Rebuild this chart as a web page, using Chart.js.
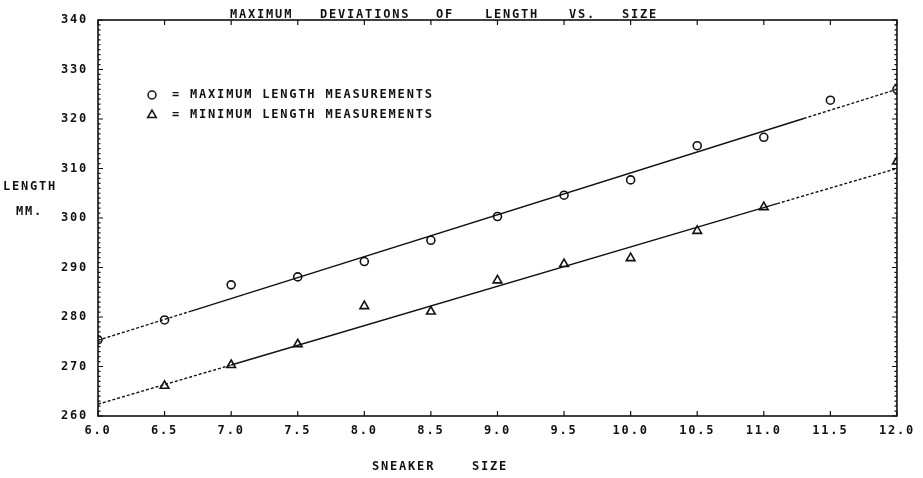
<!DOCTYPE html>
<html>
<head>
<meta charset="utf-8">
<script src="https://cdn.jsdelivr.net/npm/chart.js@4.4.1/dist/chart.umd.min.js"></script>
<style>
  html, body { margin: 0; padding: 0; background: #fff; }
  #wrap { width: 923px; height: 478px; }
</style>
</head>
<body>
<div id="wrap"><canvas id="chart" width="923" height="478"></canvas></div>
<script>
// shoe sizes (x) and measured lengths in mm
const sizes = [6.0, 6.5, 7.0, 7.5, 8.0, 8.5, 9.0, 9.5, 10.0, 10.5, 11.0, 11.5, 12.0];
const maxLength = [275.4, 279.4, 286.5, 288.1, 291.2, 295.5, 300.3, 304.6, 307.7, 314.6, 316.3, 323.8, 326.0];
const minLength = [null, 266.1, 270.3, 274.5, 282.2, 281.1, 287.4, 290.7, 291.9, 297.4, 302.2, null, 311.4];

// fitted lines: ends dotted, middle solid
const maxFitX = [6.0, 6.7, 11.3, 12.0];
const maxFitY = [275.3, 281.2, 320.1, 326.0];
const minFitX = [6.0, 7.0, 11.1, 12.0];
const minFitY = [262.4, 270.3, 302.9, 310.0];

const xTicks = { min: 6, max: 12, step: 0.5 };
const yTicks = { min: 260, max: 340, step: 10 };

const titleWords = ['MAXIMUM', 'DEVIATIONS', 'OF', 'LENGTH', 'VS.', 'SIZE'];
const titleWordX = [230, 320, 436, 485, 569, 622];
const legendLabels = ['= MAXIMUM LENGTH MEASUREMENTS', '= MINIMUM LENGTH MEASUREMENTS'];

const INK = '#111';
const FONT = "'DejaVu Sans Mono', monospace";
const SPACING = '1.8px';

function toPoints(xs, ys) {
    const pts = [];
    xs.forEach((x, i) => {
        if (ys[i] !== null) pts.push({ x: x, y: ys[i] });
    });
    return pts;
}

function fitLine(xs, ys) {
    return {
        data: toPoints(xs, ys),
        showLine: true,
        borderColor: INK,
        borderWidth: 1.4,
        pointRadius: 0,
        segment: {
            // first and last pieces are the dotted extrapolation
            borderDash: ctx => (ctx.p0DataIndex === 1 ? [] : [3, 2])
        }
    };
}

// spaced plotter-like lettering
const spacingPlugin = {
    id: 'spacing',
    beforeLayout(chart) { chart.ctx.letterSpacing = SPACING; },
    beforeDraw(chart) { chart.ctx.letterSpacing = SPACING; }
};

// frame, tick marks, titles and legend
const framePlugin = {
    id: 'frame',
    afterDraw(chart) {
        const ctx = chart.ctx;
        const a = chart.chartArea;
        const xs = chart.scales.x;
        const ys = chart.scales.y;
        ctx.save();
        ctx.strokeStyle = INK;
        ctx.fillStyle = INK;
        ctx.lineWidth = 1.6;
        ctx.strokeRect(a.left, a.top, a.right - a.left, a.bottom - a.top);

        ctx.lineWidth = 1.2;
        ctx.beginPath();
        xs.ticks.forEach(t => {
            const px = xs.getPixelForValue(t.value);
            ctx.moveTo(px, a.bottom);
            ctx.lineTo(px, a.bottom - 5);
            ctx.moveTo(px, a.top);
            ctx.lineTo(px, a.top + 5);
        });
        for (let v = yTicks.min; v <= yTicks.max; v += 1) {
            const py = ys.getPixelForValue(v);
            const len = v % 10 === 0 ? 5 : 2.5;
            ctx.moveTo(a.left, py);
            ctx.lineTo(a.left + len, py);
            ctx.moveTo(a.right, py);
            ctx.lineTo(a.right - len, py);
        }
        ctx.stroke();

        ctx.letterSpacing = SPACING;
        ctx.font = 'bold 12px ' + FONT;
        ctx.textBaseline = 'alphabetic';
        ctx.textAlign = 'left';
        titleWords.forEach((w, i) => ctx.fillText(w, titleWordX[i], 18));

        ctx.textBaseline = 'middle';
        ctx.fillText('LENGTH', 3, 187);
        ctx.fillText('MM.', 16, 212);
        ctx.fillText('SNEAKER', 372, 467);
        ctx.fillText('SIZE', 472, 467);
        ctx.fillText(legendLabels[0], 172, 95);
        ctx.fillText(legendLabels[1], 172, 115);

        // legend symbols, hollow like the plotted marks
        ctx.lineWidth = 1.5;
        ctx.fillStyle = '#fff';
        Chart.helpers.drawPoint(ctx, { pointStyle: 'circle', radius: 4, borderWidth: 1.5 }, 152, 95);
        Chart.helpers.drawPoint(ctx, { pointStyle: 'triangle', radius: 5, borderWidth: 1.5 }, 152, 115);
        ctx.restore();
    }
};

const chart = new Chart(document.getElementById('chart'), {
    type: 'scatter',
    data: {
        datasets: [
            fitLine(maxFitX, maxFitY),
            fitLine(minFitX, minFitY),
            {
                data: toPoints(sizes, maxLength),
                pointStyle: 'circle',
                pointRadius: 4,
                borderWidth: 1.6,
                borderColor: INK,
                backgroundColor: 'rgba(255,255,255,0)'
            },
            {
                data: toPoints(sizes, minLength),
                pointStyle: 'triangle',
                pointRadius: 5,
                borderWidth: 1.6,
                borderColor: INK,
                backgroundColor: 'rgba(255,255,255,0)'
            }
        ]
    },
    options: {
        responsive: false,
        animation: false,
        layout: { padding: { top: 20, right: 25, left: 0, bottom: 0 } },
        plugins: {
            legend: { display: false },
            tooltip: { enabled: false }
        },
        scales: {
            x: {
                type: 'linear',
                min: xTicks.min,
                max: xTicks.max,
                grid: { display: false, drawTicks: false },
                border: { display: false },
                afterFit: s => { s.height = 62; },
                ticks: {
                    stepSize: xTicks.step,
                    autoSkip: false,
                    maxRotation: 0,
                    padding: 8,
                    color: INK,
                    font: { family: FONT, size: 12, weight: 'bold' },
                    callback: v => Number(v).toFixed(1)
                }
            },
            y: {
                min: yTicks.min,
                max: yTicks.max,
                grid: { display: false, drawTicks: false },
                border: { display: false },
                afterFit: s => { s.width = 98; },
                ticks: {
                    stepSize: yTicks.step,
                    padding: 10,
                    color: INK,
                    font: { family: FONT, size: 12, weight: 'bold' },
                    callback: v => String(v)
                }
            }
        }
    },
    plugins: [spacingPlugin, framePlugin]
});
</script>
</body>
</html>
